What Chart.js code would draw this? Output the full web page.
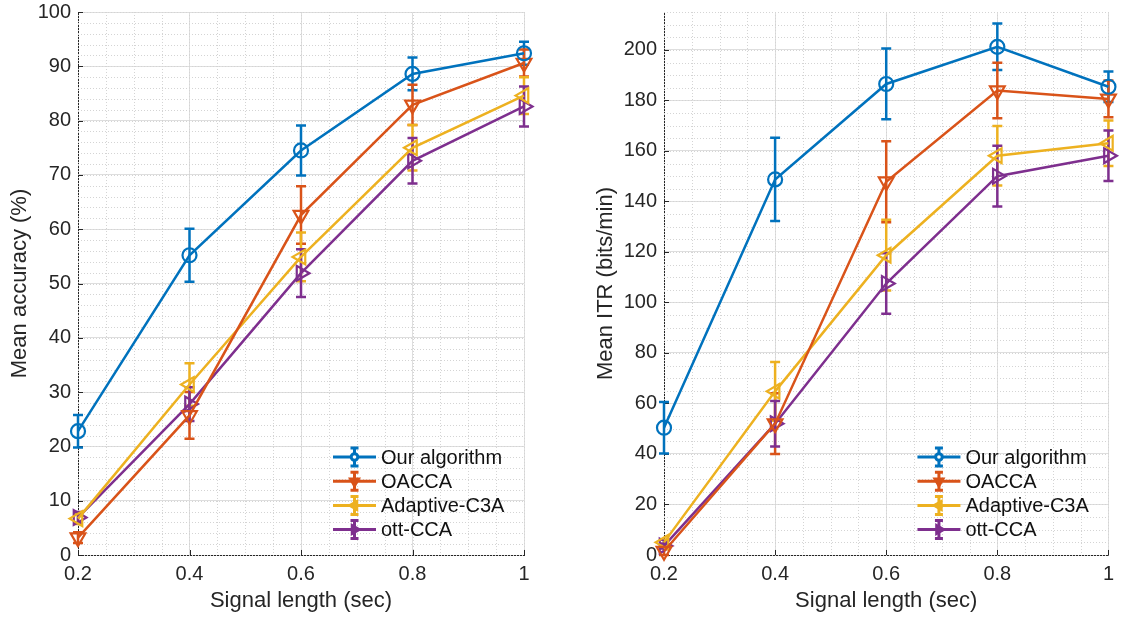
<!DOCTYPE html>
<html>
<head>
<meta charset="utf-8">
<script src="https://cdn.jsdelivr.net/npm/chart.js@4"></script>
<style>
html, body { margin: 0; padding: 0; background: #fff; }
#left { position: absolute; left: 0; top: 0; width: 560px; height: 619px; }
#right { position: absolute; left: 560px; top: 0; width: 561px; height: 619px; }
</style>
</head>
<body>
<div id="left"><canvas id="accChart"></canvas></div>
<div id="right"><canvas id="itrChart"></canvas></div>
<script>
// signal lengths (sec)
const signalLength = [0.2, 0.4, 0.6, 0.8, 1];
const seriesNames = ['Our algorithm', 'OACCA', 'Adaptive-C3A', 'ott-CCA'];

// mean accuracy (%) and error
const accOurs = [22.8, 55.2, 74.5, 88.6, 92.4];
const accOursErr = [3.0, 4.9, 4.6, 3.0, 2.1];
const accOacca = [3.2, 25.7, 62.6, 82.9, 90.6];
const accOaccaErr = [1.0, 4.3, 5.3, 3.7, 2.5];
const accC3a = [6.7, 31.4, 54.9, 75.0, 84.6];
const accC3aErr = [1.0, 3.9, 4.5, 4.2, 3.4];
const accOtt = [6.9, 27.8, 51.9, 72.6, 82.6];
const accOttErr = [1.0, 3.1, 4.4, 4.2, 3.7];

// mean ITR (bits/min) and error
const itrOurs = [50.4, 148.7, 186.5, 201.2, 185.4];
const itrOursErr = [10.2, 16.5, 14.0, 9.2, 6.0];
const itrOacca = [1.5, 52.0, 147.8, 183.9, 180.6];
const itrOaccaErr = [1.5, 12.0, 16.0, 11.0, 7.3];
const itrC3a = [5.0, 64.8, 118.7, 158.1, 163.0];
const itrC3aErr = [1.0, 11.6, 14.0, 11.8, 9.0];
const itrOtt = [3.6, 52.0, 107.5, 150.0, 158.1];
const itrOttErr = [1.0, 9.0, 12.0, 12.0, 10.0];

const accTicks = [0, 10, 20, 30, 40, 50, 60, 70, 80, 90, 100];
const itrTicks = [0, 20, 40, 60, 80, 100, 120, 140, 160, 180, 200];

const colors = ['#0072BD', '#D95319', '#EDB120', '#7E2F8E'];
const markers = [
  { pointStyle: 'circle', rotation: 0, radius: 7 },
  { pointStyle: 'triangle', rotation: 180, radius: 8.5 },
  { pointStyle: 'triangle', rotation: 270, radius: 8.5 },
  { pointStyle: 'triangle', rotation: 90, radius: 8.5 }
];
const FONT = '"Liberation Sans", Arial, Helvetica, sans-serif';
const TEXT = '#262626';

function makeDatasets(values, errors) {
  return values.map((vals, i) => ({
    label: seriesNames[i],
    data: signalLength.map((x, j) => ({ x: x, y: vals[j] })),
    errors: errors[i],
    borderColor: colors[i],
    backgroundColor: 'rgba(0,0,0,0)',
    borderWidth: 2.5,
    pointStyle: markers[i].pointStyle,
    pointRotation: markers[i].rotation,
    pointRadius: markers[i].radius,
    pointBorderWidth: 2.2,
    pointBackgroundColor: 'rgba(0,0,0,0)',
    tension: 0,
    clip: false
  }));
}

// minor dotted grid, inward ticks and error bars
const decorPlugin = {
  id: 'decor',
  beforeDatasetsDraw(chart, args, opts) {
    const ctx = chart.ctx;
    const a = chart.chartArea;
    const xs = chart.scales.x, ys = chart.scales.y;
    ctx.save();
    ctx.strokeStyle = '#d4d4d4';
    ctx.lineWidth = 1;
    ctx.setLineDash([1, 2]);
    for (let v = xs.min; v <= xs.max + 1e-9; v += opts.xMinor) {
      const px = Math.round(xs.getPixelForValue(v)) + 0.5;
      ctx.beginPath(); ctx.moveTo(px, a.top); ctx.lineTo(px, a.bottom); ctx.stroke();
    }
    for (let v = ys.min; v <= ys.max + 1e-9; v += opts.yMinor) {
      const py = Math.round(ys.getPixelForValue(v)) + 0.5;
      ctx.beginPath(); ctx.moveTo(a.left, py); ctx.lineTo(a.right, py); ctx.stroke();
    }
    ctx.setLineDash([]);
    ctx.strokeStyle = TEXT;
    xs.ticks.forEach(t => {
      const px = Math.round(xs.getPixelForValue(t.value)) + 0.5;
      ctx.beginPath(); ctx.moveTo(px, a.bottom); ctx.lineTo(px, a.bottom - 5); ctx.stroke();
    });
    ys.ticks.forEach(t => {
      const py = Math.round(ys.getPixelForValue(t.value)) + 0.5;
      ctx.beginPath(); ctx.moveTo(a.left, py); ctx.lineTo(a.left + 5, py); ctx.stroke();
    });
    // error bars
    chart.data.datasets.forEach((ds, i) => {
      ctx.strokeStyle = ds.borderColor;
      ctx.lineWidth = 2.5;
      ds.data.forEach((p, j) => {
        const e = ds.errors[j];
        const px = xs.getPixelForValue(p.x);
        const top = ys.getPixelForValue(p.y + e);
        const bot = ys.getPixelForValue(p.y - e);
        ctx.beginPath();
        ctx.moveTo(px, top); ctx.lineTo(px, bot);
        ctx.moveTo(px - 5, top); ctx.lineTo(px + 5, top);
        ctx.moveTo(px - 5, bot); ctx.lineTo(px + 5, bot);
        ctx.stroke();
      });
    });
    ctx.restore();
  },
  afterDraw(chart) {
    const ctx = chart.ctx;
    const a = chart.chartArea;
    ctx.save();
    chart.data.datasets.forEach((ds, i) => {
      const y = a.bottom - 98 + i * 24.2;
      const x0 = a.right - 191;
      const x1 = x0 + 43;
      const xm = (x0 + x1) / 2;
      ctx.strokeStyle = ds.borderColor;
      ctx.lineWidth = 3;
      ctx.beginPath();
      ctx.moveTo(x0, y); ctx.lineTo(x1, y);
      ctx.moveTo(xm, y - 9); ctx.lineTo(xm, y + 9);
      ctx.moveTo(xm - 4, y - 9); ctx.lineTo(xm + 4, y - 9);
      ctx.moveTo(xm - 4, y + 9); ctx.lineTo(xm + 4, y + 9);
      ctx.stroke();
      ctx.fillStyle = ds.borderColor;
      ctx.lineWidth = 2;
      Chart.helpers.drawPoint(ctx, {
        pointStyle: markers[i].pointStyle,
        rotation: markers[i].rotation,
        radius: i === 0 ? 3.8 : 5.5,
        borderWidth: 2
      }, xm, y);
      if (i === 0) {
        ctx.fillStyle = '#fff';
        ctx.beginPath(); ctx.arc(xm, y, 1.8, 0, Math.PI * 2); ctx.fill();
      }
      ctx.fillStyle = '#111';
      ctx.font = '20px ' + FONT;
      ctx.textBaseline = 'middle';
      ctx.fillText(ds.label, x1 + 5, y + 1);
    });
    ctx.restore();
  }
};

function makeChart(id, datasets, yMax, yTicks, yTitle, yMinor, leftPad, rightPad) {
  return new Chart(document.getElementById(id), {
    type: 'line',
    data: { datasets: datasets },
    plugins: [decorPlugin],
    options: {
      responsive: true,
      maintainAspectRatio: false,
      animation: false,
      events: [],
      layout: { padding: { top: 12, left: leftPad, right: rightPad, bottom: 0 } },
      plugins: {
        legend: { display: false },
        tooltip: { enabled: false },
        decor: { xMinor: 0.05, yMinor: yMinor }
      },
      scales: {
        x: {
          type: 'linear',
          min: 0.2,
          max: 1,
          afterFit: s => { s.height = 64; },
          afterBuildTicks: s => { s.ticks = signalLength.map(v => ({ value: v })); },
          ticks: {
            padding: 7,
            color: TEXT,
            font: { family: FONT, size: 20 },
            callback: v => String(Number(v.toFixed(2)))
          },
          grid: { color: '#dedede', lineWidth: 1, drawTicks: false },
          border: { display: true, color: TEXT, width: 1 },
          title: {
            display: true,
            text: 'Signal length (sec)',
            color: TEXT,
            font: { family: FONT, size: 22 },
            padding: { top: 0, bottom: 5 }
          }
        },
        y: {
          min: 0,
          max: yMax,
          afterFit: s => { s.width = 78; s.paddingTop = 0; s.paddingBottom = 0; },
          afterBuildTicks: s => { s.ticks = yTicks.map(v => ({ value: v })); },
          ticks: {
            padding: 7,
            color: TEXT,
            font: { family: FONT, size: 20 }
          },
          grid: { color: '#dedede', lineWidth: 1, drawTicks: false },
          border: { display: true, color: TEXT, width: 1 },
          title: {
            display: true,
            text: yTitle,
            color: TEXT,
            font: { family: FONT, size: 22 },
            padding: { top: 7, bottom: 0 }
          }
        }
      }
    }
  });
}

makeChart('accChart',
  makeDatasets([accOurs, accOacca, accC3a, accOtt], [accOursErr, accOaccaErr, accC3aErr, accOttErr]),
  100, accTicks, 'Mean accuracy (%)', 2, 0, 36);

makeChart('itrChart',
  makeDatasets([itrOurs, itrOacca, itrC3a, itrOtt], [itrOursErr, itrOaccaErr, itrC3aErr, itrOttErr]),
  215, itrTicks, 'Mean ITR (bits/min)', 5, 26, 11);
</script>
</body>
</html>
